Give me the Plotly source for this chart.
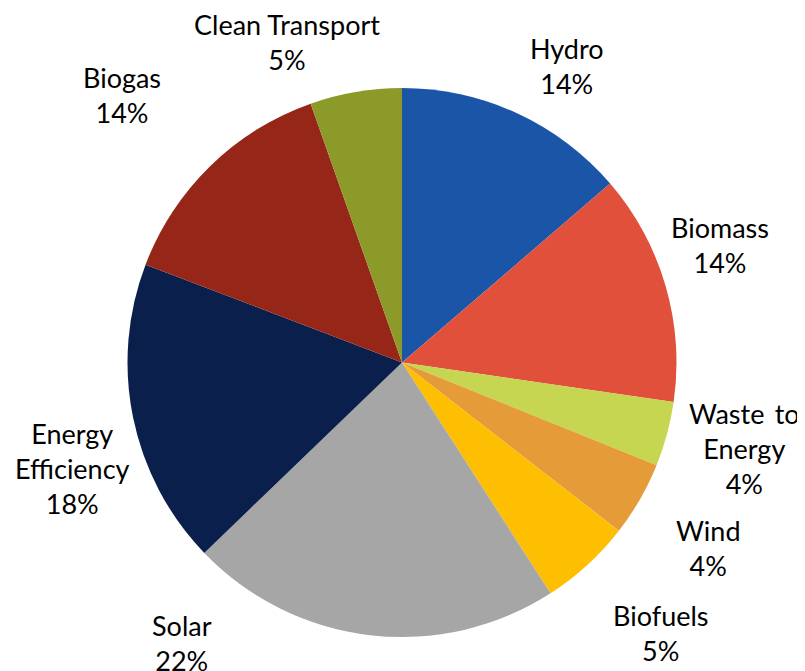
import plotly.graph_objects as go

labels = ["Hydro", "Biomass", "Waste to Energy", "Wind", "Biofuels",
          "Solar", "Energy Efficiency", "Biogas", "Clean Transport"]
values = [13.7, 13.6, 3.8, 4.4, 5.4, 21.9, 18.0, 13.8, 5.4]
label_text = ["Hydro", "Biomass", "Waste\u00a0\u2009to<br>Energy", "Wind", "Biofuels",
              "Solar", "Energy<br>Efficiency", "Biogas", "Clean Transport"]
colors = ["#1B55A8", "#E0503A", "#C6D650", "#E49B38", "#FEBF02",
          "#A6A6A6", "#0A1F4B", "#962718", "#8C9A2A"]

# label block centres in window pixels (layout only)
label_px = [(567, 66), (720, 245), (744, 448), (708, 548), (661, 633),
            (182, 643), (72, 468), (122, 95), (287, 42)]

OFF = 8  # page body margin
W, H = 805 - OFF, 671 - OFF
ML, MT = 127 - OFF, 88 - OFF
pw, ph = 550, 549
MR, MB = W - ML - pw, H - MT - ph

fig = go.Figure(go.Pie(
    labels=labels, values=values, marker=dict(colors=colors, line=dict(width=0)),
    sort=False, direction="clockwise", rotation=0, textinfo="none",
    hoverinfo="label+percent", showlegend=False,
))

total = sum(values)
font = dict(family="Lato, sans-serif", size=27, color="#000000")
for t, v, (px, py) in zip(label_text, values, label_px):
    pct = round(100 * v / total)
    fig.add_annotation(
        x=(px - OFF - ML) / pw, y=(MT + ph - (py - OFF)) / ph,
        xref="paper", yref="paper",
        text=f"{t}<br>{pct}%", showarrow=False, font=font,
        xanchor="center", yanchor="middle", align="center",
    )

fig.update_layout(
    width=W, height=H, margin=dict(l=ML, r=MR, t=MT, b=MB),
    paper_bgcolor="white", plot_bgcolor="white",
)
fig.write_html("out.html")
